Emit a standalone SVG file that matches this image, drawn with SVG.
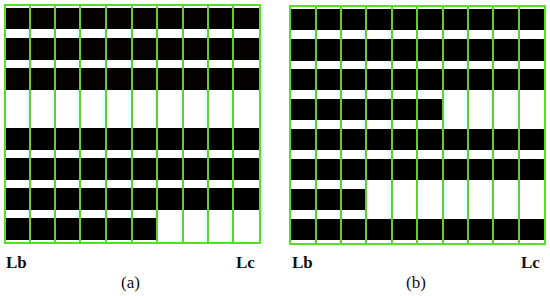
<svg xmlns="http://www.w3.org/2000/svg" width="550" height="296" viewBox="0 0 550 296">
<style>
.bar{fill:#000;}
.bara{fill:#050302;}
.sh{fill:#e6ffff;}
.grid{stroke:#66cc2e;stroke-width:2;fill:none;}
.frame{stroke:#55dd2a;stroke-width:2;fill:none;}
.lab{font-family:"Liberation Serif","DejaVu Serif",serif;font-size:17px;font-weight:bold;fill:#111;}
.cap{font-family:"Liberation Serif","DejaVu Serif",serif;font-size:17px;fill:#111;}
</style>
<rect width="550" height="296" fill="#fff"/>
<g id="panel-a">
  <g id="a-shadows">
    <rect class="sh" x="26" y="5" width="3" height="238"/>
    <rect class="sh" x="51" y="5" width="3" height="238"/>
    <rect class="sh" x="76" y="5" width="3" height="238"/>
    <rect class="sh" x="102" y="5" width="3" height="238"/>
    <rect class="sh" x="128" y="5" width="3" height="238"/>
    <rect class="sh" x="153" y="5" width="3" height="238"/>
    <rect class="sh" x="179" y="5" width="3" height="238"/>
    <rect class="sh" x="204" y="5" width="3" height="238"/>
    <rect class="sh" x="229" y="5" width="3" height="238"/>
    <rect class="sh" x="261" y="5" width="3" height="238"/>
  </g>
  <g id="a-bars">
    <rect class="bara" x="5" y="8" width="255" height="21"/>
    <rect class="bara" x="5" y="38" width="255" height="22"/>
    <rect class="bara" x="5" y="68" width="255" height="22"/>
    <rect class="bar" x="5" y="128" width="255" height="22"/>
    <rect class="bar" x="5" y="158" width="255" height="22"/>
    <rect class="bar" x="5" y="188" width="255" height="22"/>
    <rect class="bar" x="5" y="218" width="152" height="22"/>
  </g>
  <g id="a-grid" class="grid">
    <line x1="30" y1="5" x2="30" y2="243"/>
    <line x1="55" y1="5" x2="55" y2="243"/>
    <line x1="80" y1="5" x2="80" y2="243"/>
    <line x1="106" y1="5" x2="106" y2="243"/>
    <line x1="132" y1="5" x2="132" y2="243"/>
    <line x1="157" y1="5" x2="157" y2="243"/>
    <line x1="183" y1="5" x2="183" y2="243"/>
    <line x1="208" y1="5" x2="208" y2="243"/>
    <line x1="233" y1="5" x2="233" y2="243"/>
  </g>
  <rect class="frame" x="5" y="5" width="255" height="238"/>
  <text class="lab" x="6" y="268">Lb</text>
  <text class="lab" x="236" y="268">Lc</text>
  <text class="cap" x="121" y="288">(a)</text>
</g>
<g id="panel-b">
  <g id="b-shadows">
    <rect class="sh" x="312" y="6" width="3" height="238"/>
    <rect class="sh" x="337" y="6" width="3" height="238"/>
    <rect class="sh" x="361" y="6" width="4" height="238"/>
    <rect class="sh" x="387" y="6" width="4" height="238"/>
    <rect class="sh" x="419" y="6" width="3" height="238"/>
    <rect class="sh" x="444" y="6" width="4" height="238"/>
    <rect class="sh" x="464" y="6" width="3" height="238"/>
    <rect class="sh" x="489" y="6" width="3" height="238"/>
    <rect class="sh" x="515" y="6" width="3" height="238"/>
  </g>
  <g id="b-bars">
    <rect class="bar" x="290" y="9" width="255" height="21"/>
    <rect class="bar" x="290" y="39" width="255" height="22"/>
    <rect class="bar" x="290" y="69" width="255" height="21"/>
    <rect class="bar" x="290" y="99" width="152" height="21"/>
    <rect class="bar" x="290" y="129" width="255" height="21"/>
    <rect class="bar" x="290" y="159" width="255" height="21"/>
    <rect class="bar" x="290" y="189" width="76" height="21"/>
    <rect class="bar" x="290" y="219" width="255" height="21"/>
  </g>
  <g id="b-grid" class="grid">
    <line x1="316" y1="6" x2="316" y2="244"/>
    <line x1="341" y1="6" x2="341" y2="244"/>
    <line x1="366" y1="6" x2="366" y2="244"/>
    <line x1="392" y1="6" x2="392" y2="244"/>
    <line x1="417" y1="6" x2="417" y2="244"/>
    <line x1="443" y1="6" x2="443" y2="244"/>
    <line x1="468" y1="6" x2="468" y2="244"/>
    <line x1="493" y1="6" x2="493" y2="244"/>
    <line x1="519" y1="6" x2="519" y2="244"/>
  </g>
  <rect class="frame" x="290" y="6" width="255" height="238"/>
  <text class="lab" x="292" y="268">Lb</text>
  <text class="lab" x="521" y="268">Lc</text>
  <text class="cap" x="406" y="288">(b)</text>
</g>
</svg>
